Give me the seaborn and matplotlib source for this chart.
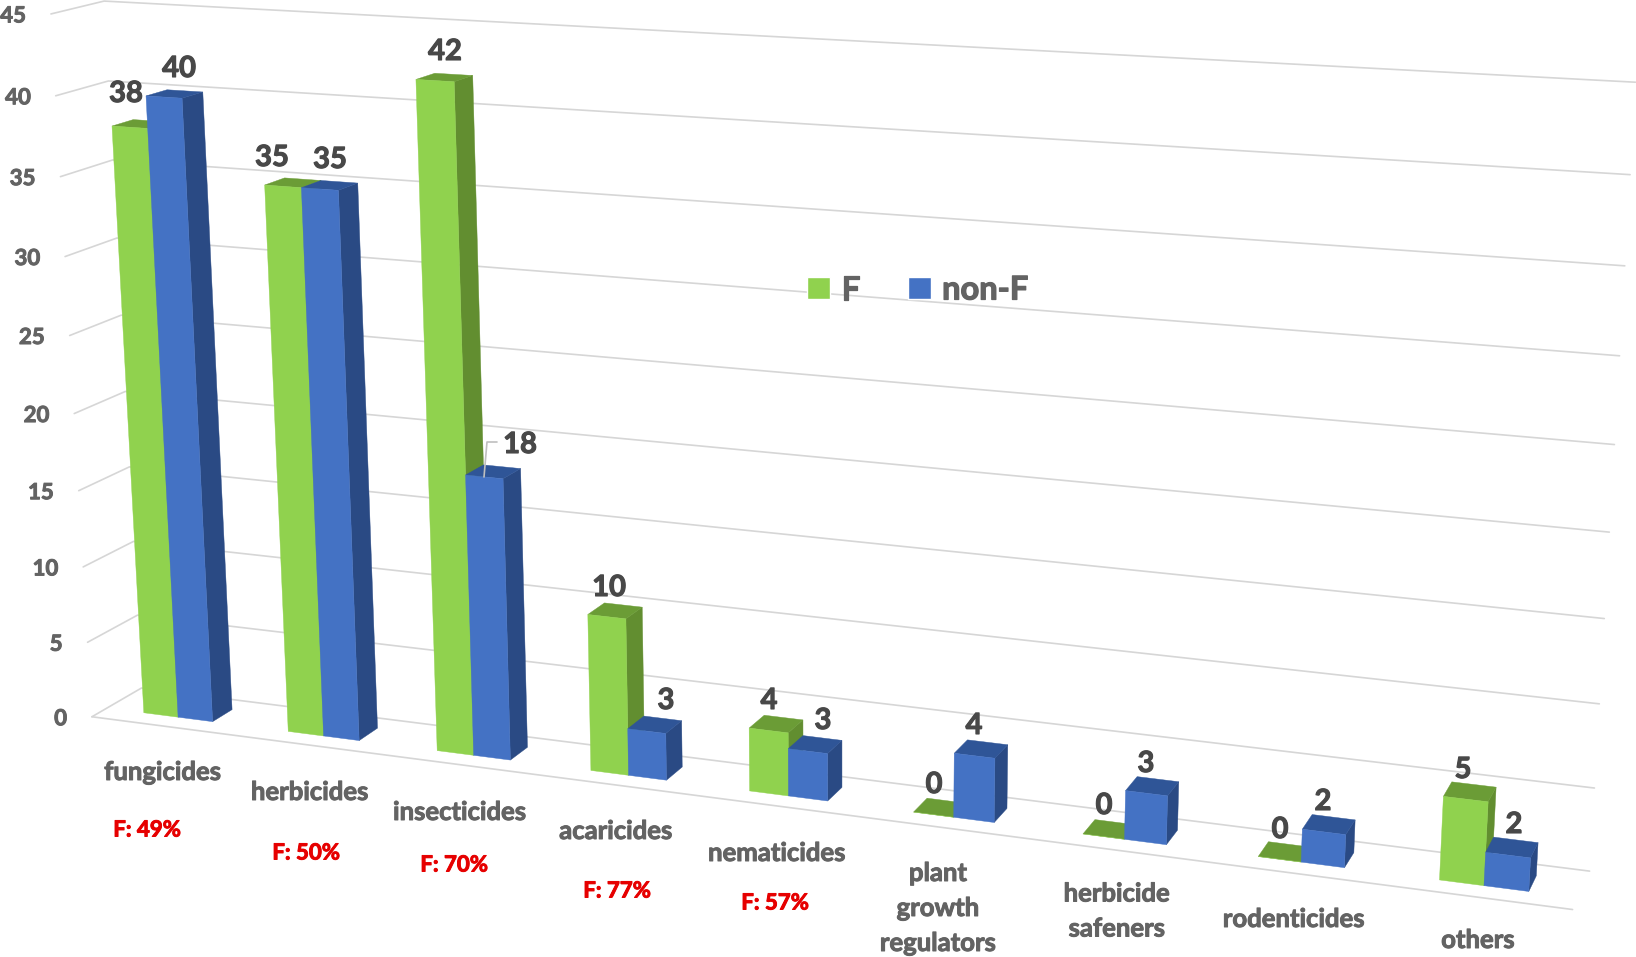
#!/usr/bin/env python3.12
"""
Fluorinated vs non-fluorinated agrochemicals, drawn as an Excel style 3D column chart.
seaborn draws the front faces, a fitted camera puts them in perspective.
"""

import numpy as np
import pandas as pd
import matplotlib
matplotlib.use("Agg")
import matplotlib.pyplot as plt
import matplotlib.patheffects as pe
import matplotlib.transforms as mtransforms
from matplotlib.patches import Polygon, Patch
import seaborn as sns

WIDTH, HEIGHT = 1636, 957

categories = ["fungicides", "herbicides", "insecticides", "acaricides", "nematicides",
              "plant\ngrowth\nregulators", "herbicide\nsafeners", "rodenticides", "others"]
f_values = [38, 35, 42, 10, 4, 0, 0, 0, 5]
non_f_values = [40, 35, 18, 3, 3, 4, 3, 2, 2]
f_shares = ["F: 49%", "F: 50%", "F: 70%", "F: 77%", "F: 57%"]
y_ticks = [0, 5, 10, 15, 20, 25, 30, 35, 40, 45]

# text positions in reference pixels
category_pos = [(163, 772), (310, 792), (460, 812), (616, 831), (777, 853),
                (938, 908), (1117, 911), (1294, 919), (1478, 940)]
share_pos = [(147, 830), (306, 853), (454, 865), (617, 891), (775, 903)]
f_label_pos = [(126, 94), (272, 158), (445, 52), (609, 588), (769, 701),
               (934, 785), (1104, 806), (1280, 830), (1463, 770)]
non_f_label_pos = [(179, 69), (330, 160), (520, 445), (666, 701), (823, 721),
                   (974, 726), (1146, 764), (1323, 802), (1514, 825)]

# bar layout inside one category slot and inside the floor depth
BAR_WIDTH = 0.48
Z_FRONT, Z_BACK = 0.30, 0.71

GREEN, GREEN_TOP, GREEN_SIDE = "#90D24E", "#6B9C36", "#628E30"
BLUE, BLUE_TOP, BLUE_SIDE = "#4472C4", "#2F5597", "#2A4A84"
GRID = "#D6D6D6"
TICK_TEXT = "#636363"
VALUE_TEXT = "#484848"

# camera calibration: (slot x, value, depth) -> reference pixel
calib = [
    (0, 0, 0, 92, 717), (0, 5, 0, 87, 643), (0, 40, 0, 55, 96), (0, 45, 0, 50, 14),
    (0, 0, 1, 142, 688), (0, 40, 1, 110, 80), (0, 45, 1, 103, 1),
    (9, 0, 1, 1589, 871), (9, 5, 1, 1594, 787), (9, 30, 1, 1619, 355),
    (9, 35, 1, 1625, 266), (9, 40, 1, 1630, 174), (9, 45, 1, 1636, 82),
    (9, 0, 0, 1572, 910),
    # bar feet
    (0.26, 0, Z_FRONT, 143, 713), (0.74, 0, Z_FRONT, 213, 721), (0.74, 0, Z_BACK, 232, 709),
    (2.26, 0, Z_FRONT, 437, 751), (2.74, 0, Z_FRONT, 510, 759), (2.74, 0, Z_BACK, 527, 747),
    (4.26, 0, Z_FRONT, 750, 791), (4.74, 0, Z_FRONT, 828, 801), (4.74, 0, Z_BACK, 842, 787),
    (6.26, 0, Z_FRONT, 1084, 833), (6.74, 0, Z_FRONT, 1167, 844), (6.74, 0, Z_BACK, 1178, 832),
    (8.26, 0, Z_FRONT, 1439, 880), (8.74, 0, Z_FRONT, 1529, 891), (8.74, 0, Z_BACK, 1537, 880),
    # bar tops
    (0.50, 40, Z_FRONT, 147, 96), (0.74, 40, Z_FRONT, 183, 98), (0.74, 40, Z_BACK, 202, 93),
    (2.26, 42, Z_FRONT, 417, 79), (2.50, 42, Z_FRONT, 454, 83), (2.50, 42, Z_BACK, 472, 76),
    (2.50, 18, Z_FRONT, 466, 474), (2.74, 18, Z_FRONT, 503, 479), (2.74, 18, Z_BACK, 520, 469),
    (3.26, 10, Z_FRONT, 588, 614), (3.50, 10, Z_FRONT, 627, 619), (3.50, 10, Z_BACK, 642, 608),
    (5.74, 4, Z_FRONT, 995, 757), (5.74, 4, Z_BACK, 1007, 745),
    (8.26, 5, Z_FRONT, 1443, 796), (8.50, 5, Z_FRONT, 1488, 801), (8.50, 5, Z_BACK, 1496, 787),
]


def fit_camera(points):
    """Direct linear transform from calibration points"""
    rows = []
    for x, y, z, u, v in points:
        w = [x / 9, y / 45, z, 1]
        u, v = u / 1000, v / 1000
        rows.append(w + [0, 0, 0, 0] + [-u * c for c in w])
        rows.append([0, 0, 0, 0] + w + [-v * c for c in w])
    _, _, vt = np.linalg.svd(np.array(rows))
    return vt[-1].reshape(3, 4)


CAMERA = fit_camera(calib)


def project(x, y, z):
    """World point(s) to display coordinates"""
    x, y, z = np.broadcast_arrays(x, y, z)
    w = np.stack([x / 9, y / 45, z, np.ones_like(x, dtype=float)])
    p = CAMERA @ w
    return np.column_stack([p[0] / p[2] * 1000, HEIGHT - p[1] / p[2] * 1000])


class PlaneTransform(mtransforms.Transform):
    """Category axis data (x, value) on the plane z, in perspective"""
    input_dims = 2
    output_dims = 2
    is_separable = False
    has_inverse = False

    def __init__(self, z):
        super().__init__()
        self.z = z

    def transform_non_affine(self, values):
        values = np.asarray(values, dtype=float)
        return project(values[:, 0] + 0.5, values[:, 1], self.z)


def thicken(color, width=0.7):
    # the Lato here renders light, a thin outline brings it close to Calibri bold
    return [pe.withStroke(linewidth=width, foreground=color)]


sns.set_theme(style="white")
plt.rcParams["font.family"] = ["Lato", "DejaVu Sans"]

df = pd.DataFrame({
    "category": categories * 2,
    "count": f_values + non_f_values,
    "series": ["F"] * len(categories) + ["non-F"] * len(categories),
})

fig = plt.figure(figsize=(WIDTH / 100, HEIGHT / 100), dpi=100)
ax = fig.add_axes([0, 0, 1, 1])

sns.barplot(data=df, x="category", y="count", hue="series", order=categories,
            hue_order=["F", "non-F"], palette=[GREEN, BLUE], width=BAR_WIDTH, gap=0,
            saturation=1, errorbar=None, legend=False, ax=ax)
ax.set_xlim(-0.5, 8.5)
ax.set_ylim(0, 45)
ax.axis("off")

pixel_tf = mtransforms.Affine2D().scale(1, -1).translate(0, HEIGHT)
screen = mtransforms.IdentityTransform()

# walls and floor edge
for tick in y_ticks:
    ax.add_line(plt.Line2D(*project([0, 0, 9], tick, [0, 1, 1]).T, color=GRID, lw=1.2,
                           transform=screen, zorder=1))
    px, py = project(0, tick, 0)[0]
    ax.text(px - 25, py - 2, str(tick), transform=screen, ha="right", va="center",
            fontsize=16, fontweight="bold", color=TICK_TEXT,
            path_effects=thicken(TICK_TEXT))
ax.add_line(plt.Line2D(*project([0, 9], 0, 0).T, color=GRID, lw=1.2, transform=screen, zorder=1))

# side and top faces around the seaborn bars, painted left to right
bars = [(b, GREEN_TOP, GREEN_SIDE) for b in ax.containers[0]]
bars += [(b, BLUE_TOP, BLUE_SIDE) for b in ax.containers[1]]
bars.sort(key=lambda item: item[0].get_x())
front_tf = PlaneTransform(Z_FRONT)
order = 3
for bar, top_color, side_color in bars:
    x0, x1 = bar.get_x() + 0.5, bar.get_x() + bar.get_width() + 0.5
    h = bar.get_height()
    side = project([x1, x1, x1, x1], [0, h, h, 0], [Z_FRONT, Z_FRONT, Z_BACK, Z_BACK])
    top = project([x0, x1, x1, x0], h, [Z_FRONT, Z_FRONT, Z_BACK, Z_BACK])
    if h > 0:
        ax.add_patch(Polygon(side, closed=True, fc=side_color, ec=side_color, lw=0.3,
                             transform=screen, zorder=order, clip_on=False))
    ax.add_patch(Polygon(top, closed=True, fc=top_color, ec=top_color, lw=0.3,
                         transform=screen, zorder=order + 1, clip_on=False))
    bar.set_transform(front_tf)
    bar.set_clip_on(False)
    bar.set_zorder(order + 2)
    bar.set_edgecolor(bar.get_facecolor())
    bar.set_linewidth(0.3)
    order += 3

# value labels
for vals, positions in ((f_values, f_label_pos), (non_f_values, non_f_label_pos)):
    for val, (px, py) in zip(vals, positions):
        ax.text(px, py, str(val), transform=pixel_tf, ha="center", va="center",
                fontsize=21, fontweight="bold", color=VALUE_TEXT, zorder=100,
                path_effects=thicken(VALUE_TEXT, 0.8))

# leader line of the 18
ax.add_line(plt.Line2D([484, 487, 497], [477, 442, 442], color="#BFBFBF", lw=1.2,
                       transform=pixel_tf, zorder=101))

# category and share labels
for name, (px, py) in zip(categories, category_pos):
    ax.text(px, py, name, transform=pixel_tf, ha="center", va="center", linespacing=1.55,
            fontsize=18.5, fontweight="bold", color=TICK_TEXT,
            path_effects=thicken(TICK_TEXT))
for share, (px, py) in zip(f_shares, share_pos):
    ax.text(px, py, share, transform=pixel_tf, ha="center", va="center",
            fontsize=16, fontweight="bold", color="#E60000",
            path_effects=thicken("#E60000"))

handles = [Patch(fc=GREEN, label="F"), Patch(fc=BLUE, label="non-F")]
leg = fig.legend(handles=handles, loc="center", bbox_to_anchor=(918 / WIDTH, 1 - 290 / HEIGHT),
                 ncol=2, frameon=False, handlelength=0.68, handleheight=0.68,
                 handletextpad=0.35, columnspacing=1.5, labelcolor=TICK_TEXT,
                 prop={"weight": "bold", "size": 23.5})
for label in leg.get_texts():
    label.set_path_effects(thicken(TICK_TEXT, 0.9))

fig.savefig("out.png", dpi=100)
